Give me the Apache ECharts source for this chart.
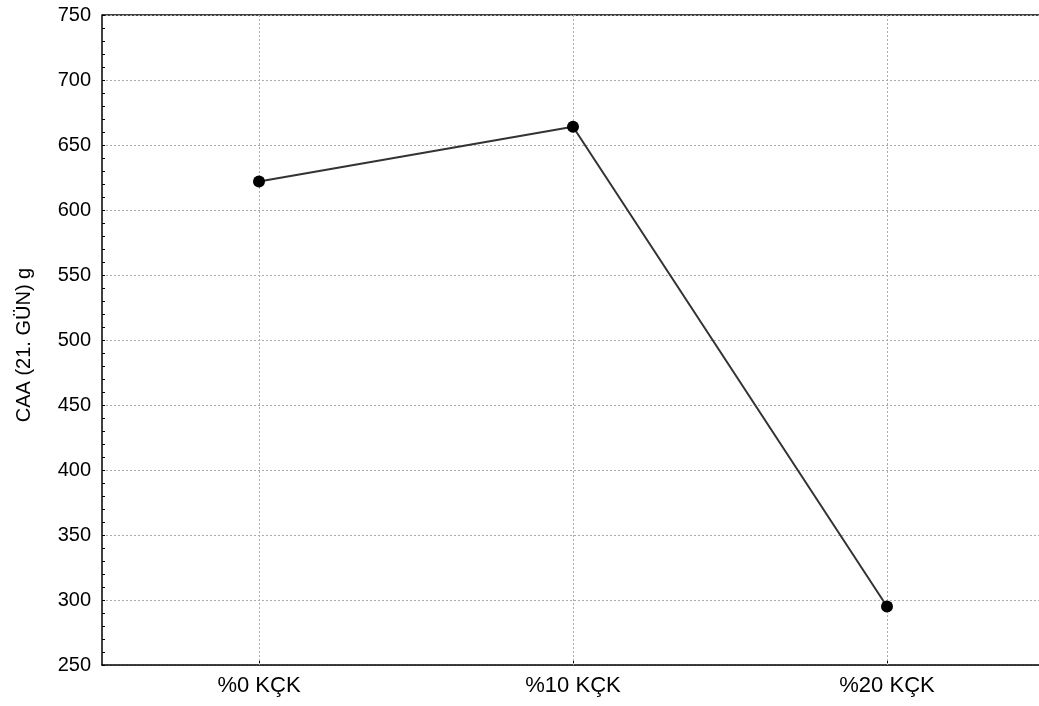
<!DOCTYPE html>
<html>
<head>
<meta charset="utf-8">
<script src="https://cdn.jsdelivr.net/npm/echarts@6/dist/echarts.min.js"></script>
<style>
  html, body { margin: 0; padding: 0; background: #fff; }
  #chart { width: 1039px; height: 706px; }
</style>
</head>
<body>
<div id="chart"></div>
<script>
  var categories = ['%0 KÇK', '%10 KÇK', '%20 KÇK'];
  var caaValues = [622, 664, 295];
  var yName = 'CAA (21. GÜN) g';

  var font = 'Liberation Sans, Arial, sans-serif';
  var dashed = { color: '#aaa', type: [2, 2], width: 1 };

  // vertical grid lines sit on the categories, not between them
  var catLines = categories.map(function (c) { return { xAxis: c }; });

  var chart = echarts.init(document.getElementById('chart'));
  chart.setOption({
    animation: false,
    backgroundColor: '#fff',
    grid: { left: 102, right: -5, top: 15, bottom: 41, outerBoundsMode: 'none' },
    xAxis: {
      type: 'category',
      data: categories,
      boundaryGap: true,
      axisLine: { lineStyle: { color: '#000', width: 1.5 } },
      axisTick: { show: true, alignWithLabel: true, inside: true, length: 4, lineStyle: { color: '#000' } },
      axisLabel: { color: '#000', fontSize: 22, fontFamily: font, margin: 10 },
      splitLine: { show: false }
    },
    yAxis: {
      type: 'value',
      min: 250,
      max: 750,
      interval: 50,
      name: yName,
      nameLocation: 'middle',
      nameGap: 68,
      nameTextStyle: { color: '#000', fontSize: 20, fontFamily: font, padding: [0, 10, 0, 0] },
      axisLine: { show: true, lineStyle: { color: '#000', width: 1.5 } },
      axisTick: { show: true, inside: true, length: 3, lineStyle: { color: '#000' } },
      minorTick: { show: true, splitNumber: 5, length: 3, lineStyle: { color: '#000' } },
      axisLabel: { color: '#000', fontSize: 20, fontFamily: font, margin: 11 },
      splitLine: { show: true, lineStyle: dashed }
    },
    series: [
      {
        name: yName,
        type: 'line',
        data: caaValues,
        symbol: 'circle',
        symbolSize: 12,
        itemStyle: { color: '#000' },
        lineStyle: { color: '#333', width: 2 },
        markLine: {
          silent: true,
          symbol: 'none',
          label: { show: false },
          lineStyle: dashed,
          z: 1,
          data: catLines
        }
      }
    ],
    graphic: [
      { type: 'line', shape: { x1: 102, y1: 15, x2: 1039, y2: 15 }, style: { stroke: '#000', lineWidth: 1.5 } }
    ]
  });
</script>
</body>
</html>
